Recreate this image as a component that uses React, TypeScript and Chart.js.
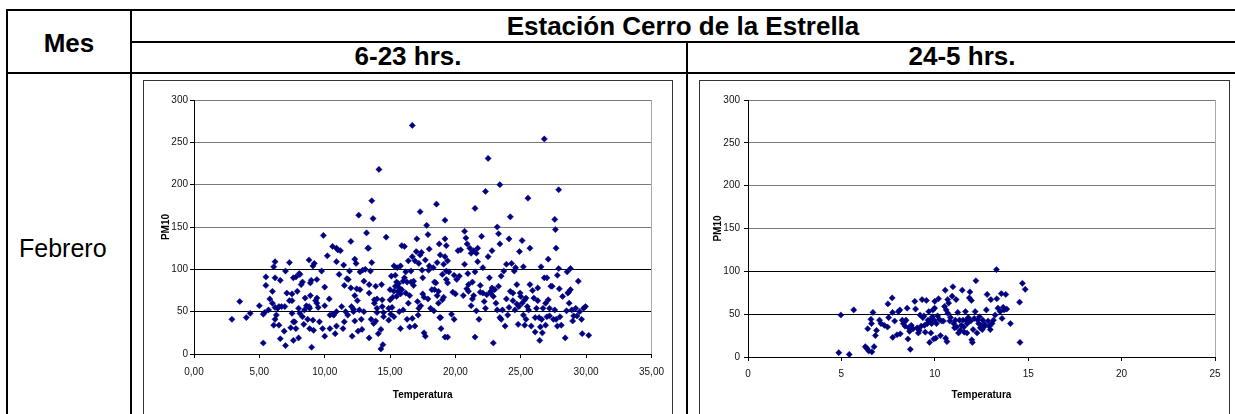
import React, { useEffect, useRef } from 'react';
import { Chart, registerables } from 'chart.js';

Chart.register(...registerables);

const FONT = '"Liberation Sans", Arial, Helvetica, sans-serif';

// ---------- data ----------
const tituloMes = 'Mes';
const tituloEstacion = 'Estación Cerro de la Estrella';
const tituloDia = '6-23 hrs.';
const tituloNoche = '24-5 hrs.';
const mesFila = 'Febrero';
const ejeX = 'Temperatura';
const ejeY = 'PM10';

const xLabelsDia = ['0,00', '5,00', '10,00', '15,00', '20,00', '25,00', '30,00', '35,00'];
const xLabelsNoche = ['0', '5', '10', '15', '20', '25'];
const yLabels = ['0', '50', '100', '150', '200', '250', '300'];

// [Temperatura, PM10]  6-23 hrs.
const puntosDia: [number, number][] = [
  [2.9,41],[3.5,62],[4.0,43],[4.3,48],[5.0,57],[5.3,47],[5.3,13],[5.4,49],[5.5,81],[5.5,91],[5.7,52],[5.8,65],[6.0,60],[6.0,74],[6.1,103],[6.2,109],[6.2,55],[6.1,34],[6.2,90],[6.2,41],[6.3,46],[6.4,54],[6.5,34],[6.5,56],[6.6,87],[6.6,18],[6.7,56],[6.9,27],[6.95,56],[7.0,10],[7.0,98],[7.1,72],[7.3,108],[7.3,63],[7.4,31],[7.5,48],[7.5,63],[7.5,71],[7.6,38],[7.6,16],[7.6,90],[7.8,91],[7.7,38],[7.8,30],[7.9,74],[8.0,54],[8.0,19],[8.05,95],[8.1,48],[8.1,94],[8.2,82],[8.3,85],[8.3,44],[8.4,35],[8.45,52],[8.5,66],[8.6,57],[8.7,41],[8.8,111],[8.8,56],[8.85,54],[8.85,30],[8.9,84],[8.9,69],[8.97,87],[9.0,8],[9.1,40],[9.15,28],[9.1,104],[9.2,107],[9.3,63],[9.4,60],[9.4,88],[9.4,66],[9.5,55],[9.6,38],[9.76,98],[9.84,30],[9.9,140],[10.0,21],[10.0,79],[10.0,57],[10.2,116],[10.35,65],[10.4,30],[10.4,46],[10.6,47],[10.6,127],[10.7,46],[10.8,24],[10.9,109],[10.9,125],[10.9,50],[10.9,33],[11.0,123],[11.1,94],[11.2,122],[11.3,56],[11.4,30],[11.45,105],[11.5,81],[11.5,38],[11.6,50],[11.7,89],[11.76,46],[11.8,88],[11.9,98],[12.0,133],[12.0,78],[12.05,56],[12.1,21],[12.2,50],[12.2,53],[12.3,69],[12.3,112],[12.4,107],[12.3,39],[12.45,77],[12.5,63],[12.55,27],[12.6,164],[12.65,52],[12.7,76],[12.7,97],[12.8,41],[12.85,29],[12.9,99],[13.0,86],[13.0,50],[13.1,100],[13.2,143],[13.3,125],[13.35,125],[13.4,72],[13.4,19],[13.4,82],[13.5,98],[13.55,41],[13.6,181],[13.6,108],[13.7,160],[13.75,36],[13.8,64],[13.8,60],[13.9,39],[13.9,80],[14.0,65],[14.0,54],[14.0,49],[14.1,24],[14.15,218],[14.3,6],[14.3,29],[14.35,82],[14.4,56],[14.4,64],[14.45,11],[14.5,44],[14.5,49],[14.7,138],[14.9,54],[14.9,40],[15.0,64],[15.0,76],[15.05,47],[15.1,92],[15.15,55],[15.2,67],[15.3,44],[15.3,104],[15.3,74],[15.4,93],[15.4,80],[15.5,68],[15.5,85],[15.55,102],[15.6,74],[15.65,83],[15.7,50],[15.7,78],[15.8,30],[15.8,104],[15.8,71],[15.9,128],[15.9,76],[16.0,86],[16.0,52],[16.1,90],[16.1,127],[16.2,72],[16.2,97],[16.3,41],[16.3,85],[16.4,60],[16.4,110],[16.5,32],[16.5,69],[16.6,85],[16.6,98],[16.7,270],[16.7,42],[16.7,115],[16.8,86],[16.8,81],[16.9,110],[16.9,33],[17.0,121],[17.05,136],[17.1,62],[17.15,46],[17.2,107],[17.2,54],[17.3,117],[17.3,168],[17.35,57],[17.4,120],[17.45,99],[17.5,90],[17.5,71],[17.6,25],[17.6,67],[17.7,111],[17.7,21],[17.8,152],[17.9,141],[17.9,65],[17.95,99],[18.0,124],[18.0,104],[18.1,54],[18.2,76],[18.3,102],[18.35,51],[18.4,85],[18.4,76],[18.5,84],[18.55,177],[18.6,108],[18.6,69],[18.7,60],[18.7,74],[18.76,130],[18.8,43],[18.84,117],[18.87,43],[18.9,30],[19.0,94],[19.0,64],[19.1,67],[19.1,106],[19.2,158],[19.2,20],[19.2,136],[19.2,115],[19.3,88],[19.3,98],[19.3,128],[19.4,20],[19.4,110],[19.4,84],[19.5,97],[19.7,47],[19.8,73],[19.9,41],[19.9,93],[20.0,71],[20.1,88],[20.2,122],[20.3,92],[20.4,123],[20.6,69],[20.7,106],[20.7,145],[20.8,137],[20.87,77],[20.9,130],[20.95,95],[21.0,74],[21.0,82],[21.1,125],[21.2,119],[21.2,57],[21.3,85],[21.3,65],[21.4,69],[21.4,122],[21.5,20],[21.5,172],[21.5,97],[21.6,119],[21.6,51],[21.7,109],[21.7,125],[21.8,41],[21.9,81],[21.9,73],[22.0,139],[22.1,72],[22.1,102],[22.2,62],[22.3,192],[22.3,54],[22.4,70],[22.5,115],[22.5,231],[22.6,90],[22.7,72],[22.7,74],[22.8,78],[22.8,122],[22.9,68],[22.9,13],[23.0,76],[23.1,60],[23.2,150],[23.2,52],[23.3,142],[23.3,80],[23.4,200],[23.4,130],[23.4,43],[23.5,41],[23.5,92],[23.6,52],[23.7,98],[23.8,33],[23.9,106],[23.9,65],[24.0,46],[24.1,55],[24.1,136],[24.2,162],[24.2,74],[24.3,107],[24.4,63],[24.4,72],[24.5,98],[24.55,52],[24.6,102],[24.7,59],[24.7,82],[24.8,35],[24.85,56],[24.9,121],[24.95,72],[25.0,68],[25.1,60],[25.1,134],[25.2,46],[25.2,103],[25.3,64],[25.3,34],[25.4,41],[25.4,66],[25.5,56],[25.55,184],[25.6,52],[25.7,125],[25.7,82],[25.8,33],[25.9,75],[26.0,66],[26.1,43],[26.1,26],[26.2,54],[26.3,78],[26.3,63],[26.4,43],[26.45,16],[26.5,32],[26.55,103],[26.6,41],[26.65,25],[26.7,54],[26.8,254],[26.8,90],[26.9,60],[26.9,34],[27.0,90],[27.0,44],[27.1,64],[27.1,112],[27.2,54],[27.2,45],[27.3,80],[27.4,80],[27.5,41],[27.6,159],[27.6,52],[27.65,147],[27.7,125],[27.7,41],[27.8,93],[27.8,33],[27.9,194],[27.9,101],[27.95,77],[28.0,44],[28.1,34],[28.2,68],[28.4,19],[28.5,51],[28.55,97],[28.6,72],[28.66,73],[28.7,60],[28.8,76],[28.8,101],[28.9,52],[28.97,39],[29.05,45],[29.2,54],[29.3,45],[29.4,86],[29.5,50],[29.65,41],[29.7,24],[29.8,54],[29.95,56],[30.2,22]
];

// [Temperatura, PM10]  24-5 hrs.
const puntosNoche: [number, number][] = [
  [4.86,5],[4.97,49],[5.42,3],[5.66,55],[6.28,12],[6.37,10],[6.41,33],[6.46,7],[6.58,44],[6.61,39],[6.63,6],[6.69,52],[6.75,12],[6.82,25],[6.88,31],[7.04,43],[7.12,39],[7.3,37],[7.47,35],[7.49,62],[7.53,46],[7.72,69],[7.74,52],[7.75,23],[7.85,42],[7.98,26],[8.05,53],[8.13,55],[8.15,27],[8.26,43],[8.31,39],[8.37,41],[8.41,36],[8.46,43],[8.52,57],[8.56,21],[8.6,34],[8.65,30],[8.69,9],[8.74,37],[8.84,33],[8.93,65],[8.97,56],[9.06,34],[9.12,28],[9.16,31],[9.21,49],[9.27,36],[9.32,67],[9.36,46],[9.42,48],[9.45,37],[9.49,29],[9.55,66],[9.6,39],[9.64,43],[9.68,53],[9.72,17],[9.75,43],[9.79,28],[9.83,39],[9.87,47],[9.9,55],[9.94,21],[9.96,43],[9.99,57],[10.0,65],[10.05,22],[10.09,39],[10.15,48],[10.2,68],[10.24,44],[10.3,25],[10.37,42],[10.46,42],[10.52,59],[10.56,78],[10.58,22],[10.61,55],[10.65,18],[10.69,67],[10.7,51],[10.74,63],[10.8,42],[10.84,46],[10.93,71],[10.97,82],[11.02,39],[11.06,34],[11.1,43],[11.14,67],[11.17,35],[11.23,52],[11.27,28],[11.32,43],[11.36,31],[11.42,37],[11.47,78],[11.51,43],[11.55,35],[11.58,29],[11.64,53],[11.68,43],[11.72,28],[11.73,39],[11.79,46],[11.85,69],[11.88,76],[11.92,42],[11.96,66],[11.98,20],[12.01,17],[12.05,32],[12.11,45],[12.16,53],[12.2,89],[12.26,28],[12.3,43],[12.35,39],[12.39,47],[12.44,34],[12.48,37],[12.54,32],[12.57,43],[12.63,35],[12.67,38],[12.76,55],[12.8,73],[12.85,42],[12.91,36],[12.97,32],[13.0,67],[13.06,39],[13.14,43],[13.23,49],[13.3,102],[13.32,68],[13.38,57],[13.5,53],[13.56,74],[13.6,45],[13.66,58],[13.71,55],[13.8,73],[13.85,56],[14.05,39],[14.54,64],[14.56,17],[14.69,86],[14.84,79]
];

// ---------- chart ----------
type Geo = {
  padRight: number; top: number; xHeight: number; yWidth: number;
  xPad: number; yPad: number; yTitlePad: number; xTitlePad: number;
};

const plotEdge = {
  id: 'plotEdge',
  beforeDatasetsDraw(chart: any) {
    const { ctx, chartArea } = chart;
    ctx.save();
    ctx.strokeStyle = '#a8a8a8';
    ctx.lineWidth = 1;
    const x = Math.round(chartArea.right) + 0.5;
    ctx.beginPath();
    ctx.moveTo(x, chartArea.top);
    ctx.lineTo(x, chartArea.bottom);
    ctx.stroke();
    ctx.restore();
  },
};

function buildConfig(points: [number, number][], xLabels: string[], geo: Geo): any {
  const xMax = Number(xLabels[xLabels.length - 1].replace(',', '.'));
  const yMax = Number(yLabels[yLabels.length - 1]);
  return {
    type: 'scatter',
    data: {
      datasets: [
        {
          data: points.map(([x, y]) => ({ x, y })),
          pointStyle: 'rectRot',
          pointRadius: 3.1,
          pointHoverRadius: 3.1,
          backgroundColor: '#000080',
          borderColor: '#000080',
          borderWidth: 0.5,
        },
      ],
    },
    options: {
      animation: false,
      responsive: false,
      maintainAspectRatio: false,
      devicePixelRatio: 1,
      events: [],
      layout: { padding: { left: 0, right: geo.padRight, top: geo.top, bottom: 0 } },
      plugins: { legend: { display: false }, tooltip: { enabled: false } },
      scales: {
        x: {
          type: 'linear',
          min: 0,
          max: xMax,
          afterFit: (s: any) => { s.height = geo.xHeight; },
          ticks: {
            stepSize: xMax / (xLabels.length - 1),
            autoSkip: false,
            maxRotation: 0,
            padding: geo.xPad,
            color: '#111',
            font: { family: FONT, size: 10 },
            callback: (_v: any, i: number) => xLabels[i],
          },
          grid: { drawOnChartArea: false, drawTicks: true, tickLength: 4, tickColor: '#000' },
          border: { display: true, color: '#000', width: 1 },
          title: {
            display: true,
            text: ejeX,
            color: '#000',
            font: { family: FONT, size: 10, weight: 'bold' },
            padding: { top: 0, bottom: geo.xTitlePad },
          },
        },
        y: {
          min: 0,
          max: yMax,
          afterFit: (s: any) => { s.width = geo.yWidth; },
          ticks: {
            stepSize: yMax / (yLabels.length - 1),
            padding: geo.yPad,
            color: '#111',
            font: { family: FONT, size: 10 },
            callback: (_v: any, i: number) => yLabels[i],
          },
          grid: {
            color: (c: any) => (c.tick && c.tick.value <= 100 ? '#000' : '#7a7a7a'),
            tickColor: '#000',
            tickLength: 4,
            lineWidth: 1,
          },
          border: { display: true, color: '#000', width: 1 },
          title: {
            display: true,
            text: ejeY,
            color: '#000',
            font: { family: FONT, size: 10, weight: 'bold' },
            padding: { top: geo.yTitlePad, bottom: 0 },
          },
        },
      },
    },
    plugins: [plotEdge],
  };
}

function Scatter(props: { points: [number, number][]; xLabels: string[]; geo: Geo; left: number; top: number; width: number; height: number }) {
  const ref = useRef<HTMLCanvasElement | null>(null);
  useEffect(() => {
    if (!ref.current) return;
    const chart = new Chart(ref.current, buildConfig(props.points, props.xLabels, props.geo));
    return () => chart.destroy();
  }, []);
  return (
    <canvas
      ref={ref}
      width={props.width}
      height={props.height}
      style={{ position: 'absolute', left: props.left, top: props.top, width: props.width, height: props.height }}
    />
  );
}

const line = (l: number, t: number, w: number, h: number, key: string) => (
  <div key={key} style={{ position: 'absolute', left: l, top: t, width: w, height: h, background: '#000' }} />
);

const textStyle = (l: number, t: number, w: number, size: number, bold: boolean): React.CSSProperties => ({
  position: 'absolute',
  left: l,
  top: t,
  width: w,
  fontSize: size,
  lineHeight: `${size}px`,
  fontWeight: bold ? 'bold' : 'normal',
  textAlign: 'center',
  whiteSpace: 'nowrap',
  color: '#000',
});

export default function App() {
  return (
    <div
      style={{
        position: 'absolute',
        left: 0,
        top: 0,
        width: 1235,
        height: 414,
        overflow: 'hidden',
        background: '#fff',
        fontFamily: FONT,
      }}
    >
      {line(6, 9, 1240, 2, 'top')}
      {line(6, 9, 2, 420, 'left')}
      {line(130, 9, 2, 420, 'mes')}
      {line(130, 41, 1110, 2, 'mid')}
      {line(6, 72, 1240, 2, 'hdr')}
      {line(686, 41, 2, 400, 'col')}

      <div style={textStyle(8, 30, 122, 26, true)}>{tituloMes}</div>
      <div style={textStyle(132, 13, 1102, 26, true)}>{tituloEstacion}</div>
      <div style={textStyle(132, 43, 552, 26, true)}>{tituloDia}</div>
      <div style={textStyle(688, 43, 548, 26, true)}>{tituloNoche}</div>
      <div style={{ ...textStyle(19, 236, 200, 25, false), textAlign: 'left', width: 'auto' }}>{mesFila}</div>

      <div style={{ position: 'absolute', left: 143, top: 80, width: 530, height: 400, border: '1px solid #333', boxSizing: 'border-box' }} />
      <div style={{ position: 'absolute', left: 699, top: 80, width: 531, height: 400, border: '1px solid #333', boxSizing: 'border-box' }} />

      <Scatter
        points={puntosDia}
        xLabels={xLabelsDia}
        left={144}
        top={81}
        width={528}
        height={333}
        geo={{ padRight: 20, top: 19, xHeight: 60, yWidth: 50, xPad: 8, yPad: 2, yTitlePad: 16, xTitlePad: 13 }}
      />
      <Scatter
        points={puntosNoche}
        xLabels={xLabelsNoche}
        left={700}
        top={81}
        width={528}
        height={333}
        geo={{ padRight: 13, top: 19, xHeight: 57, yWidth: 48, xPad: 7, yPad: 4, yTitlePad: 12, xTitlePad: 13 }}
      />
    </div>
  );
}
